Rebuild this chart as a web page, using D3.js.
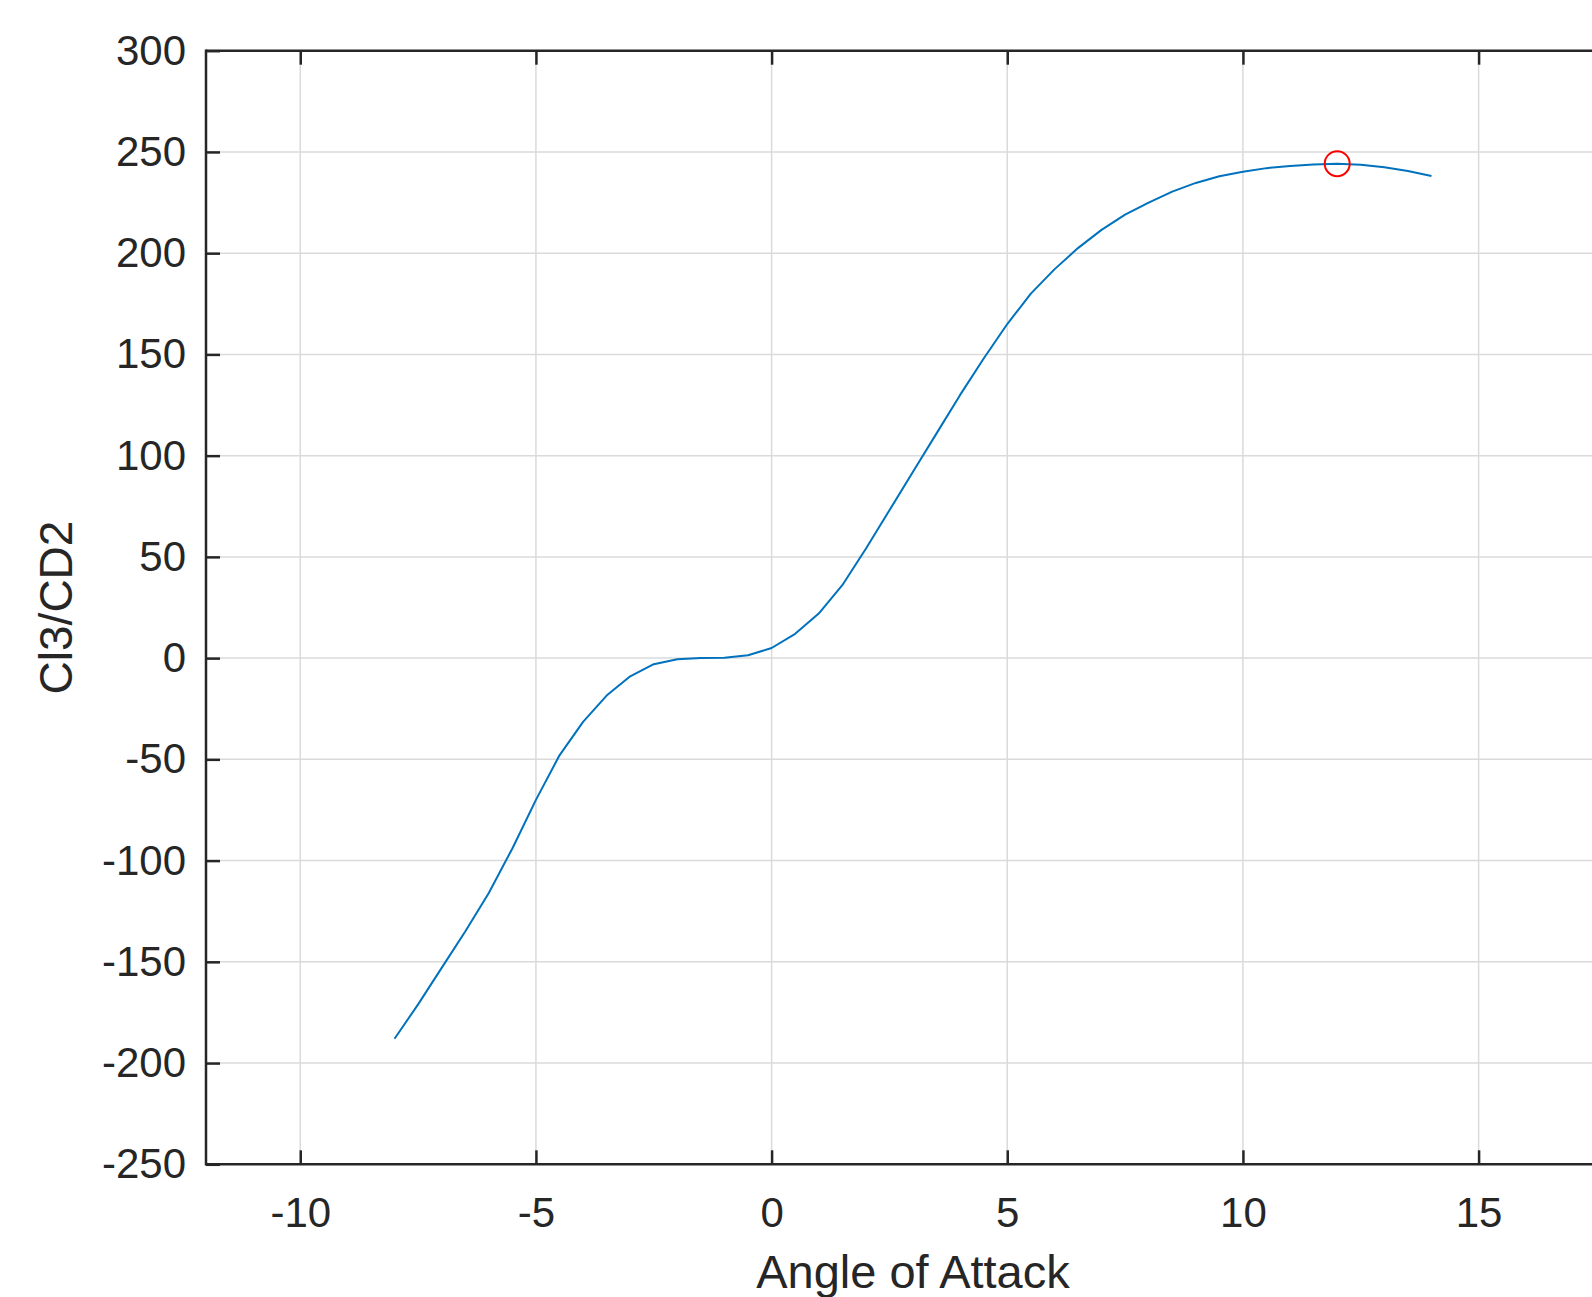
<!DOCTYPE html>
<html>
<head>
<meta charset="utf-8">
<script src="https://cdn.jsdelivr.net/npm/d3@7"></script>
<style>
  html, body { margin: 0; padding: 0; background: #fff; overflow: hidden; }
  svg { display: block; font-family: "Liberation Sans", Arial, Helvetica, sans-serif; }
</style>
</head>
<body>
<div id="chart"></div>
<script>
// --- Data ---
const angles = [-8, -7.5, -7, -6.5, -6, -5.5, -5, -4.5, -4, -3.5, -3, -2.5, -2, -1.5, -1, -0.5,
  0, 0.5, 1, 1.5, 2, 2.5, 3, 3.5, 4, 4.5, 5, 5.5, 6, 6.5, 7, 7.5, 8, 8.5, 9, 9.5,
  10, 10.5, 11, 11.5, 12, 12.5, 13, 13.5, 14];
const ratio = [-188, -171, -153, -135, -116, -94, -70, -48, -31.5, -18.5, -9, -3, -0.6, 0, 0.2, 1.4,
  5, 12, 22, 36, 54, 73, 92, 111, 130, 148, 165, 180, 192, 202.5, 211.5, 219, 225, 230.4, 234.7, 238,
  240.2, 242, 243.1, 243.8, 244.2, 243.7, 242.4, 240.6, 238.1];
const peakAngle = [12];
const peakValue = [244.2];
const xTicks = [-10, -5, 0, 5, 10, 15];
const yTicks = [-250, -200, -150, -100, -50, 0, 50, 100, 150, 200, 250, 300];

// --- Setup ---
const width = 1592, height = 1297;
// axes box runs past the right edge of the window
const plot = { left: 206, top: 50.7, bottom: 1164.3, right: 1620 };

const x = d3.scaleLinear().domain([-12, 18]).range([plot.left, plot.right]);
const y = d3.scaleLinear().domain([-250, 300]).range([plot.bottom, plot.top]);

const svg = d3.select("#chart").append("svg")
  .attr("width", width)
  .attr("height", height);

const axisColor = "#262626";
const tickLen = 14;

// grid
const grid = svg.append("g");
grid.selectAll("line.gx").data(xTicks).enter().append("line")
  .attr("x1", d => x(d)).attr("x2", d => x(d))
  .attr("y1", plot.top).attr("y2", plot.bottom)
  .attr("stroke", "#dadada").attr("stroke-width", 1.5);
grid.selectAll("line.gy").data(yTicks).enter().append("line")
  .attr("x1", plot.left).attr("x2", plot.right)
  .attr("y1", d => y(d)).attr("y2", d => y(d))
  .attr("stroke", "#dadada").attr("stroke-width", 1.5);

// curve
const line = d3.line()
  .x((d, i) => x(angles[i]))
  .y(d => y(d));

svg.append("path")
  .datum(ratio)
  .attr("fill", "none")
  .attr("stroke", "#0072BD")
  .attr("stroke-width", 2)
  .attr("stroke-linejoin", "round")
  .attr("d", line);

// max marker
svg.selectAll("circle.peak").data(peakAngle).enter().append("circle")
  .attr("cx", d => x(d))
  .attr("cy", (d, i) => y(peakValue[i]))
  .attr("r", 12.5)
  .attr("fill", "none")
  .attr("stroke", "#FF0000")
  .attr("stroke-width", 2);

// axes (ticks inside, box on)
const xAxis = d3.axisBottom(x).tickValues(xTicks).tickSize(-tickLen).tickPadding(33).tickFormat(d3.format("d"));
const xAxisTop = d3.axisTop(x).tickValues(xTicks).tickSize(-tickLen).tickFormat("");
const yAxis = d3.axisLeft(y).tickValues(yTicks).tickSize(-tickLen).tickPadding(20).tickFormat(d3.format("d"));

function styleAxis(g) {
  g.select(".domain").remove();
  g.selectAll(".tick line").attr("stroke", axisColor).attr("stroke-width", 2.5);
  g.selectAll(".tick text")
    .attr("fill", axisColor)
    .style("font-size", "42px")
    .text(function() { return this.textContent.replace("\u2212", "-"); });
}

svg.append("g").attr("transform", `translate(0,${plot.bottom})`).call(xAxis).call(styleAxis);
svg.append("g").attr("transform", `translate(0,${plot.top})`).call(xAxisTop).call(styleAxis);
svg.append("g").attr("transform", `translate(${plot.left},0)`).call(yAxis).call(styleAxis);

// box lines
svg.append("line").attr("x1", plot.left).attr("x2", plot.right).attr("y1", plot.bottom).attr("y2", plot.bottom)
  .attr("stroke", axisColor).attr("stroke-width", 2.5);
svg.append("line").attr("x1", plot.left).attr("x2", plot.right).attr("y1", plot.top).attr("y2", plot.top)
  .attr("stroke", axisColor).attr("stroke-width", 2.5);
svg.append("line").attr("x1", plot.left).attr("x2", plot.left).attr("y1", plot.top - 1.25).attr("y2", plot.bottom + 1.25)
  .attr("stroke", axisColor).attr("stroke-width", 2.5);

// labels
svg.append("text")
  .attr("x", (plot.left + plot.right) / 2)
  .attr("y", 1288)
  .attr("text-anchor", "middle")
  .attr("fill", axisColor)
  .style("font-size", "47px")
  .text("Angle of Attack");

svg.append("text")
  .attr("transform", `translate(72,${(plot.top + plot.bottom) / 2}) rotate(-90)`)
  .attr("text-anchor", "middle")
  .attr("fill", axisColor)
  .style("font-size", "46px")
  .text("Cl3/CD2");
</script>
</body>
</html>
